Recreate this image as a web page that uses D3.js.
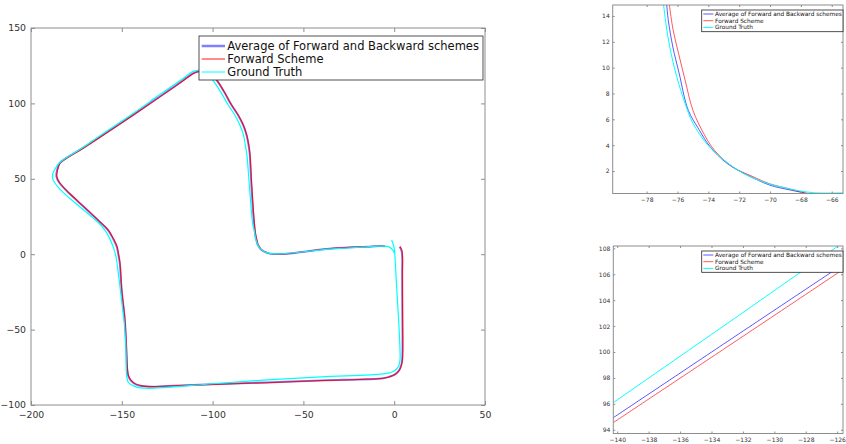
<!DOCTYPE html>
<html>
<head>
<meta charset="utf-8">
<script src="https://cdn.jsdelivr.net/npm/d3@7/dist/d3.min.js"></script>
<style>
body { margin: 0; background: #fff; }
svg { font-family: "DejaVu Sans", sans-serif; display: block; }
</style>
</head>
<body>
<svg id="fig" width="846" height="444"></svg>
<script>
var seriesNames = ["Average of Forward and Backward schemes", "Forward Scheme", "Ground Truth"]
var seriesColors = ["#0000ff", "#ff0000", "#00ffff"]

// whole trajectory (x, y)
var avgPath = [[3.0,5.0],[4.0,2.5],[4.4,-2.0],[4.4,-12.7],[4.5,-40],[4.6,-63.5],[4.4,-70],[3.9,-73.5],[2.7,-77],[0.4,-79.7],[-2.6,-81.2],[-6.0,-82.2],[-40,-83.7],[-70,-85.0],[-100,-86.3],[-125,-87.4],[-133,-87.9],[-139,-87.4],[-142.6,-86.1],[-145.1,-83.6],[-146.5,-80.5],[-147.0,-77],[-147.6,-60],[-148.4,-43],[-150.1,-23.7],[-151.1,-6],[-152.0,0.5],[-152.8,5],[-154.7,10],[-157.6,16],[-162.2,21.5],[-175.0,35.9],[-181.2,43],[-184.5,47.5],[-186.0,51.5],[-185.7,55.5],[-184.2,60.4],[-180.7,63.7],[-172.2,69.9],[-162.1,77.8],[-143.6,92.6],[-130,103.8],[-120,112.1],[-113.1,118.1],[-110.6,120.1],[-108.1,121.2],[-105.1,121.4],[-101.1,119.1],[-97.8,115.5],[-93.6,107.5],[-89.6,98.9],[-86.1,92.5],[-83.2,85.7],[-81.3,79.0],[-80.2,72.4],[-79.6,67.0],[-78.6,45.0],[-77.5,25.0],[-76.7,14.8],[-76.3,11.6],[-75.9,9.6],[-75.3,6.7],[-74.6,5.2],[-73.9,3.9],[-72.8,2.6],[-71.5,1.7],[-70.0,0.9],[-68.0,0.3],[-61.0,0.2],[-33.5,3.9],[-15.0,5.0],[-7.8,5.4],[-5.0,5.2]]
var fwdPath = [[3.2,5.0],[4.2,2.5],[4.6,-2.0],[4.5,-12.7],[4.6,-40.0],[4.7,-63.5],[4.5,-70.0],[4.0,-73.5],[2.8,-77.0],[0.5,-79.8],[-2.5,-81.3],[-6.0,-82.3],[-40.0,-83.8],[-70.0,-85.2],[-100.0,-86.4],[-125.0,-87.4],[-133.0,-87.8],[-139.0,-87.3],[-142.5,-86.0],[-145.0,-83.5],[-146.3,-80.5],[-146.8,-77.0],[-147.5,-60.0],[-148.3,-43.0],[-150.0,-23.7],[-151.0,-6.0],[-151.9,0.5],[-152.6,5.0],[-154.5,10.0],[-157.4,16.0],[-162.0,21.5],[-174.8,35.9],[-181.0,43.0],[-184.3,47.5],[-185.8,51.5],[-185.5,55.5],[-184.0,60.3],[-180.5,63.5],[-172.1,69.6],[-162.0,77.5],[-143.6,92.3],[-130.0,103.5],[-120.0,111.8],[-113.0,117.8],[-110.5,119.9],[-108.0,121.0],[-105.0,121.3],[-101.0,119.0],[-97.7,115.5],[-93.5,107.5],[-89.5,98.9],[-86.0,92.5],[-83.1,85.7],[-81.2,79.0],[-80.1,72.4],[-79.5,67.0],[-78.4,45.0],[-77.3,25.0],[-76.5,14.8],[-75.93,11.1],[-75.5,9.0],[-75.0,6.7],[-74.3,4.9],[-73.6,3.6],[-72.4,2.3],[-71.1,1.6],[-70.0,1.0],[-67.8,0.3],[-61.0,0.2],[-33.5,3.9],[-15.0,5.0],[-7.8,5.4],[-5.0,5.2]]
var gtPath = [[-1.4,9.4],[0.0,4.0],[0.4,-1.6],[1.5,-25],[2.5,-45],[3.2,-63.5],[3.2,-70.2],[2.6,-73.8],[1.0,-76.5],[-1.5,-78.3],[-6,-79.4],[-40,-81.4],[-70,-83.4],[-100,-85.9],[-125,-88.3],[-136.3,-88.9],[-141.5,-88.3],[-144.5,-86.8],[-146.4,-85.1],[-147.3,-81.2],[-147.7,-63.5],[-148.7,-45],[-149.5,-37],[-151.9,-12.7],[-153.2,-1.6],[-154.5,4],[-156.3,9.5],[-159.3,16],[-163,21],[-177.6,35.9],[-184,43],[-187.3,48],[-188.1,50.5],[-187.8,54],[-186,58],[-184.6,60.3],[-180.8,63.8],[-172.1,70.2],[-163,77.8],[-143.6,93.5],[-130,105.0],[-120,113.4],[-114,118.6],[-111.5,120.8],[-109,121.8],[-106,121.9],[-102.5,119.8],[-100.5,116.6],[-95.5,107.5],[-91.4,98.9],[-87.8,92.3],[-85.0,85.7],[-83.0,79],[-82.0,72.4],[-81.2,66.9],[-79.4,40],[-77.9,20],[-76.9,14.85],[-76.5,11.6],[-76.05,9.3],[-75.5,7.2],[-75.0,5.7],[-74.1,4.1],[-73.0,2.85],[-71.7,1.8],[-70.2,1.05],[-68.9,0.66],[-67.2,0.32],[-62,0.3],[-33.5,3.5],[-15,4.9],[-7.8,5.4],[-3.2,5.0],[-0.8,2.8],[0.1,0.6]]

// zoom on the corner near (-72, 5)
var cornerAvg = [[-76.75,15.3],[-76.7,14.85],[-76.6,13.7],[-76.3,11.6],[-75.9,9.6],[-75.3,6.7],[-74.6,5.2],[-73.9,3.9],[-72.8,2.6],[-71.5,1.7],[-70.0,0.9],[-68.9,0.58],[-68.05,0.37],[-67.4,0.2],[-66.8,0.05]]
var cornerFwd = [[-76.55,15.3],[-76.52,14.85],[-76.28,12.9],[-75.93,11.1],[-75.5,9.0],[-75.0,6.7],[-74.3,4.9],[-73.6,3.6],[-72.4,2.3],[-71.1,1.56],[-70.0,1.0],[-68.9,0.66],[-67.8,0.32],[-67.2,0.2],[-66.5,0.05]]
var cornerGT = [[-76.95,15.3],[-76.9,14.85],[-76.75,13.4],[-76.5,11.6],[-76.05,9.3],[-75.5,7.2],[-75.0,5.7],[-74.1,4.1],[-73.0,2.85],[-71.7,1.8],[-70.2,1.05],[-68.9,0.66],[-67.2,0.32],[-65.0,0.32]]

// zoom on the diagonal near (-133, 101)
var diagAvg = [[-140.3,94.89],[-133.0,100.8],[-125.5,106.86]]
var diagFwd = [[-140.3,94.51],[-133.0,100.4],[-125.5,106.47]]
var diagGT = [[-140.3,96.05],[-133.0,102.2],[-125.8,108.30]]

var mainXTicks = [-200, -150, -100, -50, 0, 50]
var mainYTicks = [-100, -50, 0, 50, 100, 150]
var cornerXTicks = [-78, -76, -74, -72, -70, -68, -66]
var cornerYTicks = [2, 4, 6, 8, 10, 12, 14]
var diagXTicks = [-140, -138, -136, -134, -132, -130, -128, -126]
var diagYTicks = [94, 96, 98, 100, 102, 104, 106, 108]

var svg = d3.select("#fig")
var axisGray = "#8e8e8e"
var labelColor = "#333"

function drawPanel(p, id) {
    var x = d3.scaleLinear().domain(p.xDomain).range([p.left, p.right])
    var y = d3.scaleLinear().domain(p.yDomain).range([p.bottom, p.top])
    var g = svg.append("g").attr("id", id)

    g.append("clipPath").attr("id", id + "-clip")
        .append("rect")
        .attr("x", p.left).attr("y", p.top)
        .attr("width", p.right - p.left).attr("height", p.bottom - p.top)

    var line = d3.line()
        .x(function(d) { return x(d[0]) })
        .y(function(d) { return y(d[1]) })
        .curve(d3.curveCatmullRom.alpha(0.5))

    var lines = g.append("g").attr("clip-path", "url(#" + id + "-clip)")
    p.paths.forEach(function(path, i) {
        lines.append("path")
            .attr("d", line(path))
            .attr("fill", "none")
            .attr("stroke", seriesColors[i])
            .attr("stroke-width", p.widths[i])
            .attr("stroke-opacity", p.opacity[i])
            .attr("stroke-linejoin", "round")
    })

    var bottomAxis = g.append("g").attr("transform", "translate(0," + p.bottom + ")")
        .call(d3.axisBottom(x).tickValues(p.xTicks).tickSizeInner(-p.tick).tickSizeOuter(0).tickPadding(p.xPad))
    var leftAxis = g.append("g").attr("transform", "translate(" + p.left + ",0)")
        .call(d3.axisLeft(y).tickValues(p.yTicks).tickSizeInner(-p.tick).tickSizeOuter(0).tickPadding(p.yPad))
    var topAxis = g.append("g").attr("transform", "translate(0," + p.top + ")")
        .call(d3.axisTop(x).tickValues(p.xTicks).tickSize(-p.tick).tickFormat(""))
    var rightAxis = g.append("g").attr("transform", "translate(" + p.right + ",0)")
        .call(d3.axisRight(y).tickValues(p.yTicks).tickSize(-p.tick).tickFormat(""))

    ;[bottomAxis, leftAxis, topAxis, rightAxis].forEach(function(a) {
        a.select(".domain").remove()
        a.attr("font-family", null).attr("font-size", p.font)
        a.selectAll("line").attr("stroke", axisGray)
        a.selectAll("text").attr("fill", labelColor)
    })

    g.append("rect")
        .attr("x", p.left).attr("y", p.top)
        .attr("width", p.right - p.left).attr("height", p.bottom - p.top)
        .attr("fill", "none").attr("stroke", axisGray).attr("stroke-width", 1)

    // legend
    var lg = p.legend
    var leg = g.append("g")
    leg.append("rect")
        .attr("x", lg.left).attr("y", lg.top)
        .attr("width", lg.width).attr("height", lg.height)
        .attr("fill", "#fff").attr("stroke", "#262626").attr("stroke-width", 0.8)
    seriesNames.forEach(function(name, i) {
        var yy = lg.top + lg.row0 + i * lg.rowGap
        leg.append("line")
            .attr("x1", lg.left + lg.pad).attr("x2", lg.left + lg.pad + lg.lineLen)
            .attr("y1", yy).attr("y2", yy)
            .attr("stroke", seriesColors[i])
            .attr("stroke-width", lg.widths[i])
            .attr("stroke-opacity", p.opacity[i])
        leg.append("text")
            .attr("x", lg.left + lg.pad + lg.lineLen + lg.gap)
            .attr("y", yy)
            .attr("dy", "0.36em")
            .attr("font-size", lg.font)
            .attr("fill", "#111")
            .text(name)
    })
}

drawPanel({
    left: 31, right: 485, top: 28, bottom: 405,
    xDomain: [-200, 50], yDomain: [-100, 150],
    xTicks: mainXTicks, yTicks: mainYTicks,
    paths: [avgPath, fwdPath, gtPath],
    widths: [2, 1.1, 1.2], opacity: [0.5, 0.9, 1],
    font: 9.3, tick: 4, xPad: 6, yPad: 5,
    legend: { left: 199, top: 36, width: 284, height: 44, row0: 10, rowGap: 13,
              pad: 2.7, lineLen: 23.3, gap: 2.3, font: 11.5, widths: [2.5, 1, 1] }
}, "main")

drawPanel({
    left: 612.7, right: 843, top: 5, bottom: 193.5,
    xDomain: [-80.2, -65.27], yDomain: [0.258, 14.85],
    xTicks: cornerXTicks, yTicks: cornerYTicks,
    paths: [cornerAvg, cornerFwd, cornerGT],
    widths: [1, 1, 1], opacity: [0.65, 0.65, 1],
    font: 6, tick: 2, xPad: 4, yPad: 3,
    legend: { left: 701.7, top: 10, width: 141.3, height: 21.7, row0: 4, rowGap: 6.7,
              pad: 1.6, lineLen: 10, gap: 1.7, font: 5.8, widths: [1, 1, 1] }
}, "corner")

drawPanel({
    left: 613.3, right: 843, top: 246, bottom: 433.5,
    xDomain: [-140.25, -125.63], yDomain: [93.71, 108.18],
    xTicks: diagXTicks, yTicks: diagYTicks,
    paths: [diagAvg, diagFwd, diagGT],
    widths: [1, 1, 1], opacity: [0.65, 0.65, 1],
    font: 6, tick: 2, xPad: 4, yPad: 3,
    legend: { left: 701.7, top: 251, width: 141.3, height: 21.3, row0: 4, rowGap: 6.7,
              pad: 1.6, lineLen: 10, gap: 1.7, font: 5.8, widths: [1, 1, 1] }
}, "diag")
</script>
</body>
</html>
